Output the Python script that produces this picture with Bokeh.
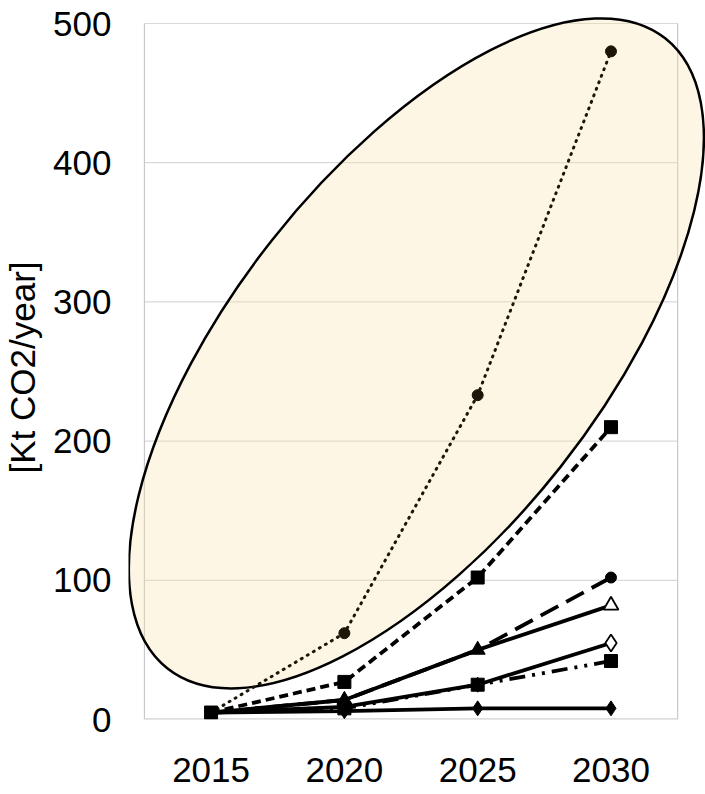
import math
from bokeh.plotting import figure
from bokeh.models import FixedTicker, Range1d
from bokeh.embed import file_html
from bokeh.resources import INLINE

# ---- data ----
years = [2015, 2020, 2025, 2030]
x_tick_labels = ["2015", "2020", "2025", "2030"]
y_ticks = [0, 100, 200, 300, 400, 500]
y_tick_labels = ["0", "100", "200", "300", "400", "500"]

series_dotted_circle = [5, 62, 233, 480]
series_shortdash_square = [5, 27, 102, 210]
series_longdash_circle = [5, 14, 50, 102]
series_solid_triangle = [5, 14, 50, 82]
series_solid_opendiamond = [5, 9, 25, 55]
series_dashdot_square = [5, 8, 25, 42]
series_solid_diamond = [5, 6, 8, 8]

ellipse_center_x = [2022.7]
ellipse_center_y = [263]

y_title = "[Kt CO2/year]"

FONT = "'Liberation Sans', Arial, sans-serif"
FS = "35px"

p = figure(width=705, height=794, output_backend="svg", toolbar_location=None,
           x_range=Range1d(2011.903, 2033.545), y_range=Range1d(0, 505.75),
           min_border_left=125, min_border_right=0, min_border_top=15,
           min_border_bottom=75)
p.outline_line_color = None
p.grid.visible = False
p.background_fill_color = "white"
p.border_fill_color = "white"

box_l = years[0] - 2.5
box_r = years[-1] + 2.5

# grid lines and plot-area box
p.segment(x0=[box_l] * 5, x1=[box_r] * 5, y0=y_ticks[1:], y1=y_ticks[1:],
          line_color="#d9d9d9", line_width=1.2, level="underlay")
p.segment(x0=[box_l, box_r], x1=[box_l, box_r], y0=[0, 0], y1=[500, 500],
          line_color="#c8c8c8", line_width=1.2, level="underlay")
p.segment(x0=[box_l], x1=[box_r], y0=[0], y1=[0],
          line_color="#d0d0d0", line_width=2.5, level="underlay")

# highlight ellipse
p.ellipse(x=ellipse_center_x, y=ellipse_center_y, width=803, height=367,
          width_units="screen", height_units="screen", angle=math.radians(51.7),
          fill_color=(250, 226, 165), fill_alpha=0.3,
          line_color="black", line_width=2.5)

LW = 3.8
# lines
p.line(years, series_solid_diamond, line_color="black", line_width=LW)
p.line(years, series_dashdot_square, line_color="black", line_width=LW,
       line_dash="16 7 3 7 3 7")
p.line(years, series_solid_opendiamond, line_color="black", line_width=LW)
p.line(years, series_solid_triangle, line_color="black", line_width=LW)
p.line(years, series_longdash_circle, line_color="black", line_width=LW,
       line_dash="20 9")
p.line(years, series_shortdash_square, line_color="black", line_width=LW,
       line_dash="9 5")
p.line(years, series_dotted_circle, line_color="#1c1608", line_width=3,
       line_dash="1 6", line_cap="round")

# markers
p.scatter(years[1:], series_solid_diamond[1:], marker="diamond", size=15,
          color="black")
p.scatter(years[1:3], series_solid_opendiamond[1:3], marker="diamond", size=15,
          color="black")
p.scatter(years[3:], series_solid_opendiamond[3:], marker="diamond", size=17,
          fill_color="white", line_color="black", line_width=1.8)
p.scatter(years[1:], series_dashdot_square[1:], marker="square", size=13,
          color="black")
p.scatter(years[3:], series_longdash_circle[3:], marker="circle", size=11,
          color="black")
p.scatter(years[1:3], series_solid_triangle[1:3], marker="triangle", size=15,
          color="black")
p.scatter(years[3:], series_solid_triangle[3:], marker="triangle", size=15,
          fill_color="white", line_color="black", line_width=1.8)
p.scatter(years, series_shortdash_square, marker="square", size=13,
          color="black")
p.scatter(years[1:], series_dotted_circle[1:], marker="circle", size=11,
          color="#1c1608")

# axes
p.xaxis.ticker = FixedTicker(ticks=years)
p.xaxis.major_label_overrides = {y: l for y, l in zip(years, x_tick_labels)}
p.yaxis.ticker = FixedTicker(ticks=y_ticks)
p.yaxis.major_label_overrides = {y: l for y, l in zip(y_ticks, y_tick_labels)}
for ax in (p.xaxis, p.yaxis):
    ax.axis_line_color = None
    ax.major_tick_line_color = None
    ax.minor_tick_line_color = None
    ax.major_label_text_font = FONT
    ax.major_label_text_font_size = FS
    ax.major_label_text_color = "black"
p.xaxis.major_label_standoff = 32
p.yaxis.major_label_standoff = 11
p.yaxis.axis_label = y_title
p.yaxis.axis_label_text_font = FONT
p.yaxis.axis_label_text_font_size = FS
p.yaxis.axis_label_text_font_style = "normal"
p.yaxis.axis_label_text_color = "black"
p.yaxis.axis_label_standoff = 8

open("out.html", "w").write(file_html(p, INLINE))
